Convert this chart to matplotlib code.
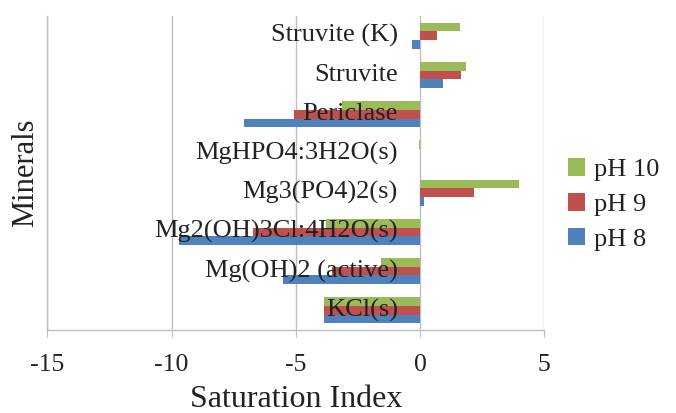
import numpy as np
import matplotlib
matplotlib.use("Agg")
import matplotlib.pyplot as plt

plt.rcParams['font.family'] = ['Liberation Serif', 'DejaVu Serif']
plt.rcParams['axes.unicode_minus'] = False

# minerals, bottom to top
minerals = ['KCl(s)', 'Mg(OH)2 (active)', 'Mg2(OH)3Cl:4H2O(s)', 'Mg3(PO4)2(s)',
            'MgHPO4:3H2O(s)', 'Periclase', 'Struvite', 'Struvite (K)']
si_ph8 = [-3.85, -5.53, -9.68, 0.16, 0.0, -7.09, 0.94, -0.32]
si_ph9 = [-3.85, -3.56, -6.73, 2.18, 0.0, -5.07, 1.67, 0.69]
si_ph10 = [-3.85, -1.57, -3.78, 3.98, -0.03, -3.13, 1.84, 1.63]
series_names = ['pH 8', 'pH 9', 'pH 10']
colors = ['#4F81BD', '#C0504D', '#9BBB59']

fig = plt.figure(figsize=(6.76, 4.13), dpi=100)
ax = fig.add_axes([0.070, 0.201, 0.735, 0.760])

y = np.arange(len(minerals))
h = 0.22
for i, (vals, name, c) in enumerate(zip([si_ph8, si_ph9, si_ph10], series_names, colors)):
    ax.barh(y + (i - 1) * h, vals, height=h, color=c, label=name, zorder=3)

ax.set_xlim(-15, 5)
ax.set_ylim(-0.5, len(minerals) - 0.5)
ax.set_xticks([-15, -10, -5, 0, 5])
ax.set_yticks([])
ax.grid(axis='x', color='#BFBFBF', linewidth=1, zorder=0)
ax.tick_params(axis='x', direction='out', length=5, color='#BFBFBF',
               labelsize=18.5, pad=12, labelcolor='#222222')

for s in ['top', 'right']:
    ax.spines[s].set_visible(False)
for s in ['left', 'bottom']:
    ax.spines[s].set_color('#BFBFBF')
    ax.spines[s].set_linewidth(1)

#category labels sit next to the zero line
for yi, name in zip(y, minerals):
    ax.annotate(name, xy=(0, yi), xytext=(-16, 0), textcoords='offset points',
                ha='right', va='center', fontsize=19, color='#222222', zorder=4)

ax.set_xlabel('Saturation Index', fontsize=23, labelpad=7, color='#222222')
ax.set_ylabel('Minerals', fontsize=22, labelpad=5, color='#222222')

handles, labels = ax.get_legend_handles_labels()
ax.legend(handles[::-1], labels[::-1], loc='center left', bbox_to_anchor=(1.0, 0.40),
          frameon=False, fontsize=19, handlelength=0.65, handleheight=0.65,
          handletextpad=0.35, labelspacing=0.45, labelcolor='#222222')

fig.savefig('out.png', dpi=100)
